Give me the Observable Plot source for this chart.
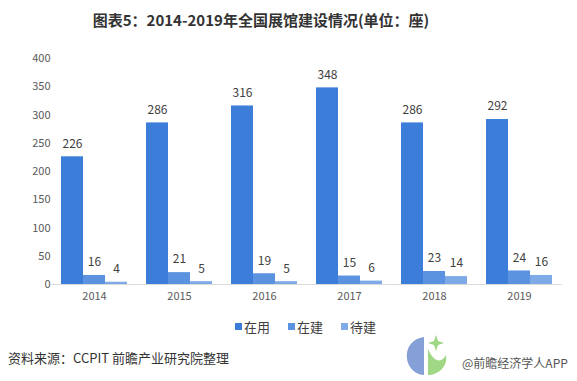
<!DOCTYPE html>
<html>
<head>
<meta charset="utf-8">
<script src="https://cdn.jsdelivr.net/npm/d3@7"></script>
<script src="https://cdn.jsdelivr.net/npm/@observablehq/plot@0.6"></script>
<style>
  html, body { margin: 0; padding: 0; background: #fff; }
  body { width: 577px; height: 381px; position: relative; overflow: hidden;
         font-family: "Microsoft YaHei", "Noto Sans CJK SC", sans-serif; }
  #title { position: absolute; left: 0; top: 0; width: 522px; height: 40px; line-height: 40px;
           text-align: center; font-size: 15px; font-weight: bold; color: #333; }
  #chart { position: absolute; left: 0; top: 40px; }
  #legend { position: absolute; left: 235px; top: 317px; font-size: 13px; color: #404040;
            display: flex; align-items: center; height: 18px; }
  #legend span.sw { display: inline-block; width: 7px; height: 7px; margin-right: 2px; }
  #legend span.it { margin-right: 18px; }
  #source { position: absolute; left: 8px; top: 348px; font-size: 13px; color: #333; }
  #wm { position: absolute; left: 462px; top: 354px; font-size: 12px; color: #555; }
  #logo { position: absolute; left: 402px; top: 333px; }
</style>
</head>
<body>
<div id="title">图表5：2014-2019年全国展馆建设情况(单位：座)</div>
<div id="chart"></div>
<div id="legend"></div>
<div id="source">资料来源：CCPIT 前瞻产业研究院整理</div>
<svg id="logo" width="50" height="44" viewBox="0 0 50 44">
  <path d="M22 4 C8 6 2 18 6 30 C9 38 16 42 22 42 L22 14 Z" fill="#6f8fd0" opacity="0.85"/>
  <path d="M26 16 L26 42 C36 42 46 34 44 22 C40 30 32 30 26 16 Z" fill="#8fd06f" opacity="0.85"/>
  <path d="M34 2 L36 8 L42 10 L36 12 L34 18 L32 12 L26 10 L32 8 Z" fill="#8fd06f" opacity="0.85"/>
</svg>
<div id="wm">@前瞻经济学人APP</div>
<script>
const years = ["2014", "2015", "2016", "2017", "2018", "2019"];
const series = ["在用", "在建", "待建"];
const inUse = [226, 286, 316, 348, 286, 292];
const building = [16, 21, 19, 15, 23, 24];
const pending = [4, 5, 5, 6, 14, 16];
const colors = ["#3b7dd8", "#5b93e0", "#7eabe8"];
const yTicks = [0, 50, 100, 150, 200, 250, 300, 350, 400];

const valuesBySeries = [inUse, building, pending];
const data = [];
years.forEach((yr, i) => {
  series.forEach((s, j) => data.push({year: yr, series: s, value: valuesBySeries[j][i]}));
});

const chart = Plot.plot({
  width: 577,
  height: 270,
  marginTop: 18,
  marginBottom: 26,
  marginLeft: 48,
  marginRight: 11,
  style: {fontFamily: "'Microsoft YaHei', 'Noto Sans CJK SC', sans-serif", fontSize: "11px", color: "#595959", background: "transparent"},
  fx: {domain: years, paddingInner: 0.196, paddingOuter: 0.117, label: null, axis: "bottom", tickSize: 0, tickPadding: 8},
  x: {domain: series, padding: 0, axis: null},
  y: {domain: [0, 400], ticks: yTicks, label: null, tickSize: 0, tickPadding: 10},
  color: {domain: series, range: colors},
  marks: [
    Plot.barY(data, {fx: "year", x: "series", y: "value", fill: "series"}),
    Plot.ruleY([0], {stroke: "#d9d9d9", strokeWidth: 1, insetLeft: -8.5, insetRight: -8.5}),
    Plot.text(data, {fx: "year", x: "series", y: "value", text: d => String(d.value), dy: -13, fontSize: 12, fill: "#404040"})
  ]
});
document.getElementById("chart").appendChild(chart);

const legend = document.getElementById("legend");
series.forEach((s, j) => {
  const sw = document.createElement("span");
  sw.className = "sw";
  sw.style.background = colors[j];
  const it = document.createElement("span");
  it.className = "it";
  it.textContent = s;
  legend.appendChild(sw);
  legend.appendChild(it);
});
</script>
</body>
</html>
